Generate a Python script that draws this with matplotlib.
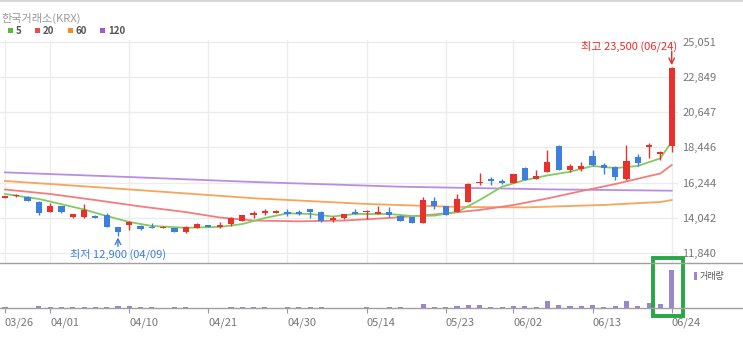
import matplotlib
matplotlib.use("Agg")
import matplotlib.pyplot as plt
from matplotlib.patches import Rectangle
from matplotlib.lines import Line2D

plt.rcParams['font.family'] = ['Noto Sans CJK KR', 'DejaVu Sans']

# ---- data ----
dates = ["03/26", "03/27", "03/28", "03/31", "04/01", "04/02", "04/03", "04/04", "04/07", "04/08",
         "04/09", "04/10", "04/11", "04/14", "04/15", "04/16", "04/17", "04/18", "04/21", "04/22",
         "04/23", "04/24", "04/25", "04/28", "04/29", "04/30", "05/02", "05/07", "05/08", "05/09",
         "05/12", "05/13", "05/14", "05/15", "05/16", "05/19", "05/20", "05/21", "05/22", "05/23",
         "05/26", "05/27", "05/28", "05/29", "05/30", "06/02", "06/04", "06/05", "06/09", "06/10",
         "06/11", "06/12", "06/13", "06/16", "06/17", "06/18", "06/19", "06/20", "06/23", "06/24"]

opens = [15300, 15380, 15360, 15050, 14390, 14780, 14060, 14060, 14180, 14220,
         13450, 13590, 13530, 13490, 13390, 13390, 13140, 13390, 13590, 13450,
         13640, 13840, 14220, 14330, 14360, 14400, 14400, 14580, 14430, 13900,
         14010, 14430, 14400, 14280, 14390, 14180, 14080, 13740, 15100, 14780,
         14430, 15050, 16210, 16470, 16350, 16200, 17140, 16470, 16930, 18560,
         17040, 17100, 17930, 17350, 17200, 16450, 17850, 18450, 18050, 18550]
highs = [15420, 15560, 15380, 15080, 14950, 14800, 14290, 14890, 14200, 14350,
         13480, 13820, 13560, 13700, 13550, 13400, 13500, 13700, 13620, 13780,
         14060, 14230, 14470, 14600, 14520, 14600, 14550, 14600, 14450, 14150,
         14280, 14600, 14500, 14800, 14700, 14200, 14100, 15370, 15360, 14800,
         15520, 16220, 16830, 16600, 16450, 16780, 17200, 17040, 18290, 18600,
         17400, 17500, 18300, 17450, 17250, 18600, 18050, 18700, 18200, 23500]
lows = [15250, 15330, 15100, 14220, 14380, 14330, 14040, 14040, 14000, 13480,
        12900, 13280, 13300, 13380, 13380, 13130, 13100, 13380, 13440, 13430,
        13530, 13830, 14050, 14220, 14350, 14180, 14200, 14050, 13800, 13800,
        13980, 14250, 13950, 14270, 14100, 13840, 13700, 13700, 14580, 14200,
        14400, 15040, 16100, 16100, 16150, 16190, 16400, 16450, 16880, 17030,
        16900, 16950, 17250, 16800, 16410, 16430, 17250, 17780, 17660, 18150]
closes = [15380, 15450, 15110, 14330, 14780, 14430, 14280, 14530, 14020, 13490,
          13140, 13800, 13320, 13400, 13490, 13140, 13490, 13660, 13450, 13590,
          14050, 14220, 14330, 14470, 14470, 14300, 14300, 14390, 13810, 14050,
          14260, 14270, 14470, 14390, 14220, 13850, 13740, 15160, 14800, 14220,
          15220, 16140, 16240, 16370, 16200, 16770, 16410, 16680, 17550, 17040,
          17250, 17250, 17350, 17140, 16620, 17600, 17480, 18620, 18160, 23400]
volumes = [25, 8, 8, 58, 25, 25, 25, 25, 25, 25,
           58, 58, 25, 25, 8, 25, 25, 8, 8, 8,
           25, 25, 25, 25, 8, 25, 25, 25, 25, 8,
           8, 8, 25, 8, 25, 25, 8, 100, 25, 25,
           58, 83, 83, 33, 33, 58, 58, 25, 167, 83,
           58, 58, 83, 33, 58, 167, 58, 125, 100, 958]

# moving averages read at selected days (index into dates)
ma5_idx = [0, 3, 5, 7, 9, 11, 13, 16, 19, 21, 23, 25, 27, 29, 31, 34, 36, 38, 40, 42, 44, 46, 48, 50, 52, 54, 56, 58, 59]
ma5_val = [15530, 15220, 14890, 14560, 14150, 13780, 13530, 13420, 13470, 13650, 14030, 14320, 14280, 14120, 14280,
           14280, 14150, 14180, 14400, 15150, 15990, 16400, 16690, 16920, 17280, 17150, 17280, 17760, 18800]
ma20_idx = [0, 4, 8, 12, 16, 19, 22, 26, 30, 34, 38, 42, 45, 48, 51, 54, 57, 58, 59]
ma20_val = [15810, 15530, 15150, 14750, 14400, 14060, 13870, 13820, 13870, 14030, 14250, 14530, 14840, 15250,
            15710, 16150, 16650, 16810, 17340]
ma60_idx = [0, 11, 22, 32, 40, 46, 53, 58, 59]
ma60_val = [16345, 15815, 15265, 14905, 14720, 14690, 14845, 15030, 15150]
ma120_idx = [0, 11, 22, 35, 48, 59]
ma120_val = [16880, 16590, 16280, 15985, 15820, 15735]

price_ticks = [11840, 14042, 16244, 18446, 20647, 22849, 25051]
tick_days = ["03/26", "04/01", "04/10", "04/21", "04/30", "05/14", "05/23", "06/02", "06/13", "06/24"]

UP = "#e8302c"
DOWN = "#3d7fdc"
GRID = "#ececec"
LABEL = "#777777"

W, H = 743, 354
fig = plt.figure(figsize=(W / 100, H / 100), dpi=100)


def fx(px):
    return px / W


def fy(py):
    return 1 - py / H


ax = fig.add_axes([0, fy(263), fx(678), fy(40) - fy(263)])
axv = fig.add_axes([0, fy(308), fx(678), fy(263) - fy(308)])

x = list(range(len(dates)))
xlim = (-0.44, 59.56)

# moving averages
ax.plot(ma120_idx, ma120_val, color="#b88ee3", lw=1.3, zorder=2)
ax.plot(ma60_idx, ma60_val, color="#f8a45a", lw=1.3, zorder=2)
ax.plot(ma20_idx, ma20_val, color="#f37d7d", lw=1.3, zorder=2)
ax.plot(ma5_idx, ma5_val, color="#82cb62", lw=1.3, zorder=2)

# candles
for i in x:
    o, h, l, c = opens[i], highs[i], lows[i], closes[i]
    col = UP if c >= o else DOWN
    ax.vlines(i, l, h, color=col, lw=1, zorder=3)
    bottom = min(o, c)
    height = max(abs(c - o), 60)
    ax.bar(i, height, bottom=bottom, width=0.55, color=col, zorder=4, linewidth=0)

ax.set_xlim(*xlim)
ax.set_ylim(11215, 25157)
ax.set_yticks(price_ticks)
ax.set_yticklabels([f"{v:,}" for v in price_ticks])
ax.yaxis.tick_right()
ax.tick_params(axis="y", length=0, pad=3, labelsize=8, labelcolor=LABEL)
tick_pos = [dates.index(d) for d in tick_days]
ax.set_xticks(tick_pos)
ax.tick_params(axis="x", length=0, labelbottom=False)
ax.grid(True, color=GRID, lw=1)
ax.set_axisbelow(True)
for s in ax.spines.values():
    s.set_visible(False)

# high / low annotations
hi_i = highs.index(max(highs))
lo_i = lows.index(min(lows))
ax.annotate("", xy=(hi_i, highs[hi_i]), xytext=(0, 11), textcoords="offset points",
            arrowprops=dict(arrowstyle="->", color=UP, lw=1, shrinkA=0, shrinkB=1))
ax.annotate(f"최고 {highs[hi_i]:,} ({dates[hi_i]})", xy=(hi_i, highs[hi_i]), xytext=(3.6, 14.5),
            textcoords="offset points", ha="right", va="center", color=UP, fontsize=8)
ax.annotate("", xy=(lo_i, lows[lo_i]), xytext=(0, -7.5), textcoords="offset points",
            arrowprops=dict(arrowstyle="->", color=DOWN, lw=1, shrinkA=0, shrinkB=1))
ax.annotate(f"최저 {lows[lo_i]:,} ({dates[lo_i]})", xy=(lo_i, lows[lo_i]), xytext=(0, -13),
            textcoords="offset points", ha="center", va="center", color=DOWN, fontsize=8,
            annotation_clip=False)

# volume panel
axv.bar(x, volumes, width=0.45, color="#9b85cf", linewidth=0)
axv.set_xlim(*xlim)
axv.set_ylim(0, 1125)
axv.set_yticks([])
axv.set_xticks(tick_pos)
axv.set_xticklabels(tick_days, ha="left")
axv.tick_params(axis="x", length=3.5, color="#999999", labelsize=8, labelcolor=LABEL, pad=3)
for s in axv.spines.values():
    s.set_visible(False)
axv.patch.set_alpha(0)

# frame lines across the full width
fig.add_artist(Line2D([0, 1], [fy(262.5), fy(262.5)], color="#a0a0a0", lw=1))
fig.add_artist(Line2D([0, 1], [fy(308), fy(308)], color="#a0a0a0", lw=1))
fig.add_artist(Line2D([0, 1], [fy(0.8), fy(0.8)], color="#cfcfcf", lw=1.2))

# header legend
fig.text(fx(1), fy(18), "한국거래소(KRX)", color="#9a9a9a", fontsize=8, va="center")
legend_items = [("5", "#58b93b", 8), ("20", "#ec4b4b", 35), ("60", "#f68b22", 68), ("120", "#9d5cd4", 100)]
for lab, col, px in legend_items:
    fig.add_artist(Rectangle((fx(px), fy(33)), fx(5), fy(28) - fy(33), color=col, lw=0))
    fig.text(fx(px + 8), fy(30.5), lab, color="#555555", fontsize=7, fontweight="bold", va="center")

# volume legend
fig.add_artist(Rectangle((fx(694), fy(280)), fx(3), fy(272) - fy(280), color="#9b85cf", lw=0))
fig.text(fx(700), fy(276), "거래량", color="#555555", fontsize=6.5, va="center")

# highlight box around the last volume bar
fig.add_artist(Rectangle((fx(653), fy(316)), fx(30), fy(258) - fy(316), fill=False,
                         edgecolor="#27a845", lw=2.8))

fig.savefig("out.png", dpi=100)
